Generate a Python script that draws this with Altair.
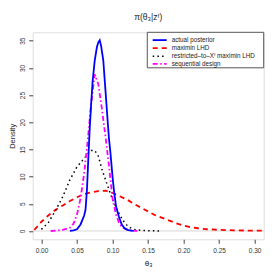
import altair as alt
import pandas as pd

# actual posterior (blue, solid)
blue_x = [0.040, 0.045, 0.050, 0.055, 0.060, 0.062, 0.064, 0.066, 0.068, 0.070, 0.072, 0.075,
          0.078, 0.080, 0.082, 0.084, 0.087, 0.090, 0.093, 0.095, 0.097, 0.100, 0.102, 0.105,
          0.109, 0.113, 0.117, 0.121, 0.126, 0.130]
blue_y = [0.0, 0.1, 0.3, 1.2, 2.8, 3.9, 7.5, 13.5, 19.0, 23.5, 27.5, 31.4,
          33.8, 34.7, 35.1, 34.0, 31.4, 26.0, 20.5, 17.0, 14.5, 10.0, 7.5, 4.5,
          2.6, 1.2, 0.5, 0.2, 0.05, 0.0]

# maximin LHD (red, dashed)
red_x = [-0.010, -0.005, 0.000, 0.010, 0.020, 0.030, 0.040, 0.050, 0.060, 0.070, 0.080, 0.090,
         0.100, 0.110, 0.120, 0.130, 0.140, 0.150, 0.160, 0.170, 0.180, 0.190, 0.200, 0.210,
         0.220, 0.230, 0.250, 0.270, 0.290, 0.310]
red_y = [0.2, 0.9, 1.7, 2.9, 3.9, 4.7, 5.5, 6.2, 6.8, 7.1, 7.35, 7.4,
         7.0, 6.4, 5.8, 5.0, 4.3, 3.6, 2.9, 2.4, 1.9, 1.4, 1.0, 0.7,
         0.5, 0.35, 0.2, 0.12, 0.08, 0.05]

# restricted-to-X^f maximin LHD (black, dotted)
blk_x = [0.000, 0.010, 0.020, 0.030, 0.040, 0.050, 0.060, 0.065, 0.070, 0.075, 0.080, 0.085,
         0.090, 0.095, 0.100, 0.105, 0.110, 0.115, 0.120, 0.125, 0.130, 0.140, 0.150, 0.170]
blk_y = [0.3, 1.6, 3.8, 6.3, 9.4, 11.8, 13.3, 14.2, 14.8, 14.8, 13.8, 11.4,
         9.5, 7.6, 5.8, 4.3, 3.0, 1.9, 1.1, 0.6, 0.3, 0.1, 0.05, 0.0]

# sequential design (magenta, dot-dash)
mag_x = [0.013, 0.020, 0.030, 0.040, 0.045, 0.050, 0.055, 0.060, 0.065, 0.070, 0.075, 0.080,
         0.085, 0.090, 0.095, 0.100, 0.105, 0.110, 0.115, 0.120, 0.130, 0.135]
mag_y = [0.0, 0.05, 0.2, 0.6, 1.3, 3.0, 6.0, 10.5, 16.5, 23.5, 28.8, 27.0,
         22.5, 17.5, 12.0, 6.0, 3.0, 1.2, 0.6, 0.3, 0.05, 0.0]

legend_labels = ["actual posterior", "maximin LHD", "restricted\u2013to\u2013X\u1da0 maximin LHD", "sequential design"]
x_ticks = [0.00, 0.05, 0.10, 0.15, 0.20, 0.25, 0.30]
y_ticks = [0, 5, 10, 15, 20, 25, 30, 35]

W, H = 231, 207
FONT = "Liberation Sans"

xs = alt.Scale(domain=[-0.0123, 0.3127], nice=False, zero=False)
ys = alt.Scale(domain=[-1.53, 36.55], nice=False, zero=False)

xaxis = alt.Axis(values=x_ticks, format=".2f", title="\u03b8\u2083", domain=False, grid=False,
                 tickSize=4, tickColor="#444", labelColor="#333", labelFontSize=6.5, labelFont=FONT,
                 labelPadding=4, titleFont=FONT, titleFontSize=8, titleFontWeight="normal",
                 titleColor="#222", titlePadding=6)
yaxis = alt.Axis(values=y_ticks, title="Density", domain=False, grid=False,
                 tickSize=4, tickColor="#444", labelColor="#333", labelFontSize=6.5, labelFont=FONT,
                 labelAngle=270, labelAlign="center", labelBaseline="bottom", labelPadding=3,
                 titleFont=FONT, titleFontSize=7.5, titleFontWeight="normal", titleColor="#222",
                 titlePadding=3)


def curve(xv, yv, color, dash, width):
    df = pd.DataFrame({"x": xv, "y": yv})
    mk = {"color": color, "strokeWidth": width, "clip": True}
    if dash:
        mk["strokeDash"] = dash
    return alt.Chart(df).mark_line(**mk).encode(
        x=alt.X("x:Q", scale=xs, axis=xaxis),
        y=alt.Y("y:Q", scale=ys, axis=yaxis),
    )


zero = alt.Chart(pd.DataFrame({"z": [0]})).mark_rule(color="#bbbbbb", strokeWidth=0.6).encode(
    y=alt.Y("z:Q", scale=ys, axis=yaxis)
)

layers = [
    zero,
    curve(red_x, red_y, "#ff0000", [5, 4], 1.8),
    curve(blk_x, blk_y, "#000000", [1.5, 3.2], 1.5),
    curve(mag_x, mag_y, "#ff00ff", [5, 2.5, 1.5, 2.5], 1.8),
    curve(blue_x, blue_y, "#0000ff", None, 1.8),
]

one = pd.DataFrame({"a": [0]})
lx0, lx1, ltx = 120, 134, 139
legend_y = [7.8, 15.9, 24.0, 31.6]
legend_style = [("#0000ff", None, 1.8), ("#ff0000", [5, 4], 1.8), ("#000000", [1.5, 3.2], 1.5),
                ("#ff00ff", [5, 2.5, 1.5, 2.5], 1.8)]

layers.append(alt.Chart(one).mark_rect(fill="white", stroke="#555", strokeWidth=1).encode(
    x=alt.value(114.6), x2=alt.value(W), y=alt.value(0), y2=alt.value(35.5)))
for lab, yy, (c, d, w) in zip(legend_labels, legend_y, legend_style):
    mk = {"color": c, "strokeWidth": w}
    if d:
        mk["strokeDash"] = d
    layers.append(alt.Chart(one).mark_rule(**mk).encode(
        x=alt.value(lx0), x2=alt.value(lx1), y=alt.value(yy)))
    layers.append(alt.Chart(one).mark_text(text=lab, align="left", baseline="middle",
                                           font=FONT, fontSize=6.3, color="#222").encode(
        x=alt.value(ltx), y=alt.value(yy)))

chart = alt.layer(*layers).properties(
    width=W, height=H,
    title=alt.TitleParams("\u03c0(\u03b8\u2083|z\u1da0)", font=FONT, fontSize=8.5, fontWeight="normal",
                          color="#222", offset=10, anchor="middle"),
    autosize=alt.AutoSizeParams(type="none"),
    padding={"left": 24.7, "top": 24.3, "right": 8, "bottom": 30},
).configure_view(stroke="#444", strokeWidth=1).configure(background="white")

chart.save("out.html", embed_options={"renderer": "svg", "actions": False})
